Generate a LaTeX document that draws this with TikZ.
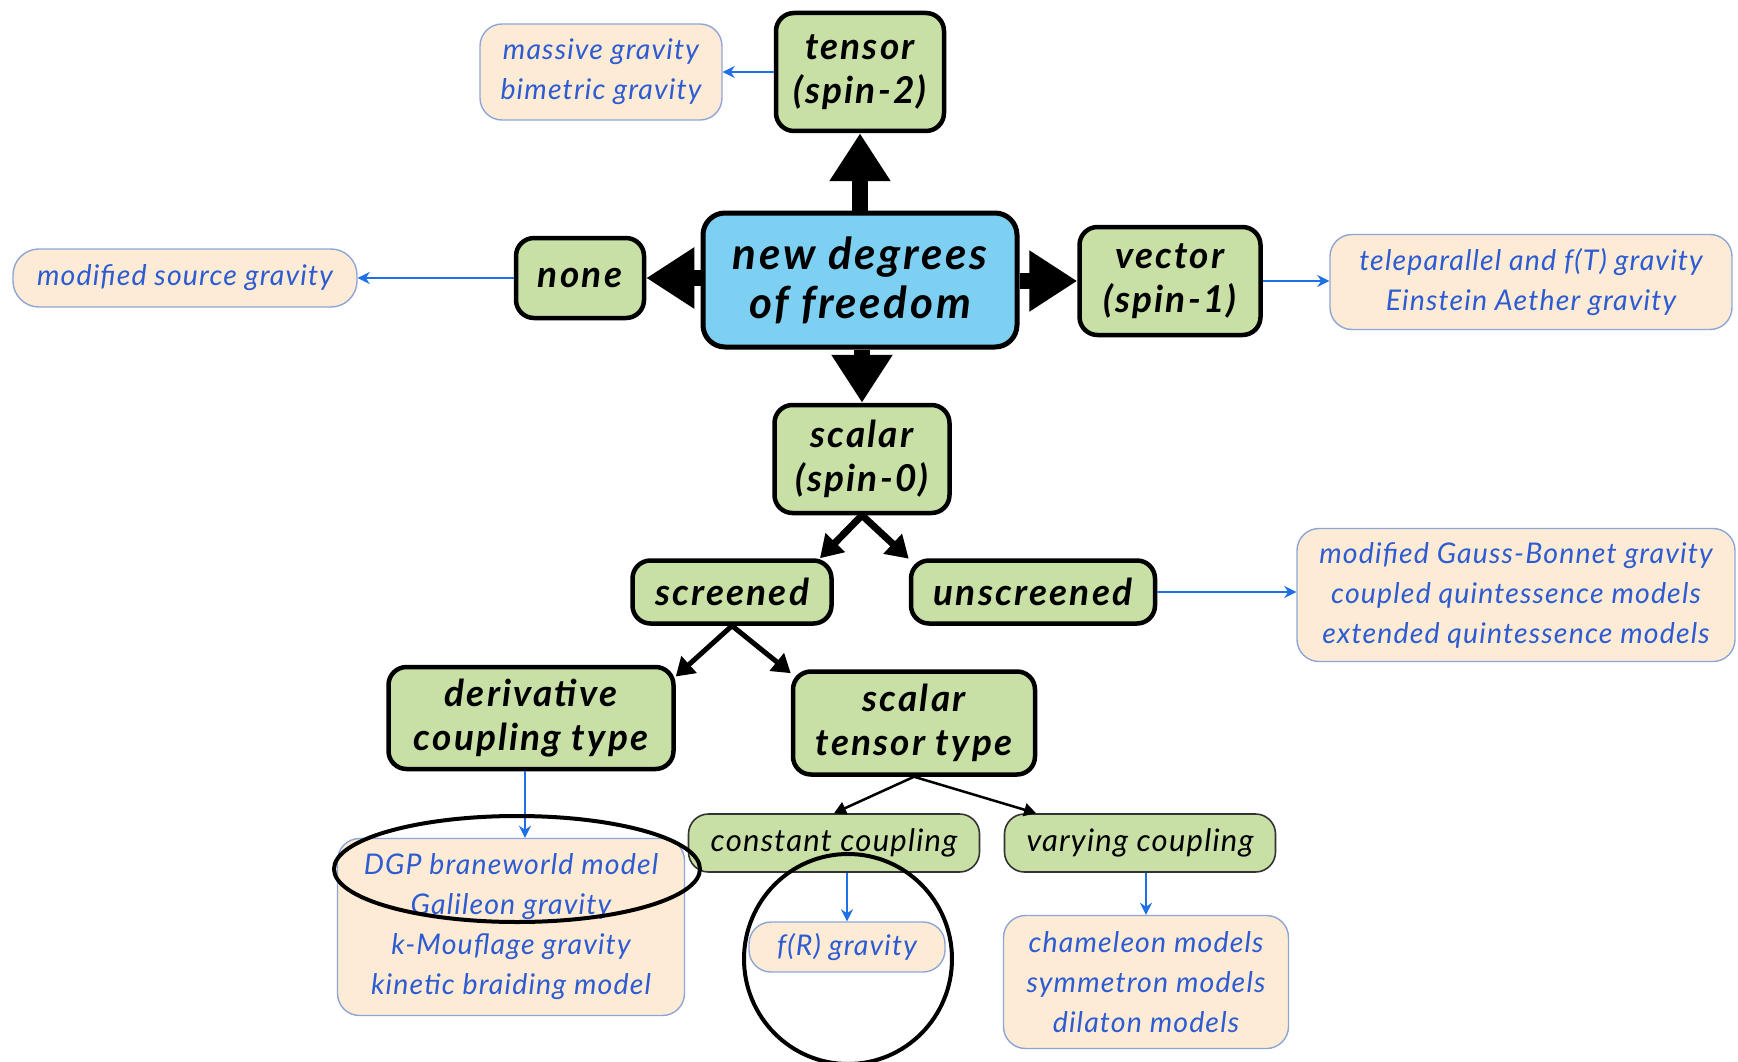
\documentclass[tikz,border=0pt]{standalone}
\usepackage{fontspec}
\setmainfont{Lato}
\newfontfamily\hfont{Lato}[LetterSpace=6]
\newfontfamily\tfont{Lato}[LetterSpace=4]
\usetikzlibrary{arrows.meta,shapes.geometric}
\definecolor{gfill}{HTML}{C8E0A6}
\definecolor{bfill}{HTML}{7DD0F2}
\definecolor{pfill}{HTML}{FDEBD6}
\definecolor{pdraw}{HTML}{8EA6D6}
\definecolor{btext}{HTML}{2D5BD1}
\definecolor{barrow}{HTML}{1F6FE6}
\begin{document}
\begin{tikzpicture}[x=1pt,y=-1pt,
  gbox/.style={draw=black, line width=4.5pt, fill=gfill, rounded corners=18pt, align=center, inner sep=0pt,
    font=\hfont\fontsize{37}{44}\selectfont\bfseries\itshape},
  cbox/.style={draw=black, line width=5pt, fill=bfill, rounded corners=22pt, align=center, inner sep=0pt,
    font=\hfont\fontsize{44}{49}\selectfont\bfseries\itshape},
  sbox/.style={draw=black!80, line width=1.6pt, fill=gfill, rounded corners=20pt, align=center, inner sep=0pt,
    font=\tfont\fontsize{31}{36}\selectfont\itshape},
  pbox/.style={draw=pdraw, line width=1.4pt, fill=pfill, rounded corners=22pt, align=center, inner sep=0pt,
    text=btext, font=\tfont\fontsize{28.5}{40}\selectfont\itshape},
  bigarrow/.style={line width=16pt, -{Triangle[length=48pt,width=58pt]}},
  midarrow/.style={line width=7pt, -{Triangle[length=22pt,width=26pt]}},
  smlarrow/.style={line width=5pt, -{Triangle[length=18pt,width=22pt]}},
  thinarrow/.style={line width=2.5pt, -{Triangle[length=12pt,width=13pt]}},
  bluearrow/.style={draw=barrow, line width=2.2pt, -{Stealth[length=12pt,width=12pt]}},
  annot/.style={draw=black, line width=4pt}
]
\useasboundingbox[fill=white] (0,0) rectangle (1738,1062);

% main nodes
\node[cbox, minimum width=314pt, minimum height=134pt] (center) at (860,280) {new degrees\\of freedom};
\node[gbox, minimum width=168pt, minimum height=118pt] (tensor) at (860,72) {tensor\\(spin-2)};
\node[gbox, minimum width=128pt, minimum height=80pt] (none) at (580,278) {none};
\node[gbox, minimum width=181pt, minimum height=108pt] (vector) at (1170,281) {vector\\(spin-1)};
\node[gbox, minimum width=175pt, minimum height=108pt] (scalar) at (862,459) {scalar\\(spin-0)};
\node[gbox, minimum width=199pt, minimum height=63pt] (screened) at (732,592) {screened};
\node[gbox, minimum width=244pt, minimum height=63pt] (unscreened) at (1033,592) {unscreened};
\node[gbox, minimum width=285pt, minimum height=102pt] (deriv) at (531,718) {derivative\\coupling type};
\node[gbox, minimum width=242pt, minimum height=103pt] (sttype) at (914,723) {scalar\\tensor type};
\node[sbox, minimum width=291pt, minimum height=58pt] (constant) at (834,843) {constant coupling};
\node[sbox, minimum width=271pt, minimum height=58pt] (varying) at (1140,843) {varying coupling};

% model boxes
\node[pbox, minimum width=242pt, minimum height=96pt] (massive) at (601,72) {massive gravity\\bimetric gravity};
\node[pbox, minimum width=344pt, minimum height=58pt, rounded corners=26pt] (modsrc) at (185,278) {modified source gravity};
\node[pbox, minimum width=402pt, minimum height=95pt] (telep) at (1531,282) {teleparallel and f(T) gravity\\Einstein Aether gravity};
\node[pbox, minimum width=438pt, minimum height=133pt] (gb) at (1516,595) {modified Gauss-Bonnet gravity\\coupled quintessence models\\extended quintessence models};
\node[pbox, minimum width=347pt, minimum height=177pt] (dgp) at (511,927) {DGP braneworld model\\Galileon gravity\\k-Mouflage gravity\\kinetic braiding model};
\node[pbox, minimum width=196pt, minimum height=50pt] (fr) at (847,947) {f(R) gravity};
\node[pbox, minimum width=285pt, minimum height=133pt] (cham) at (1146,982) {chameleon models\\symmetron models\\dilaton models};

% thick arrows
\draw[bigarrow] (center.north) -- (tensor.south);
\draw[bigarrow] (center.west |- none.east) -- (none.east);
\draw[bigarrow] (center.east |- vector.west) -- (vector.west);
\draw[bigarrow] (center.south -| scalar.north) -- (scalar.north);
\draw[midarrow] (scalar.south) -- (screened.21);
\draw[midarrow] (scalar.south) -- (unscreened.165);
\draw[smlarrow] (screened.south) -- (deriv.16);
\draw[smlarrow] (screened.south) -- (sttype.158);
\draw[thinarrow] (sttype.south) -- (constant.north);
\draw[thinarrow] (sttype.south) -- (varying.164);

% blue arrows
\draw[bluearrow] (tensor.west) -- (massive.east |- tensor.west);
\draw[bluearrow] (none.west) -- (modsrc.east |- none.west);
\draw[bluearrow] (vector.east) -- (telep.west |- vector.east);
\draw[bluearrow] (unscreened.east) -- (gb.west |- unscreened.east);
\draw[bluearrow] (deriv.south -| 525,0) -- (dgp.north -| 525,0);
\draw[bluearrow] (constant.south -| fr.north) -- (fr.north);
\draw[bluearrow] (varying.south -| cham.north) -- (cham.north);

% annotation ellipses
\draw[annot] (517,869) ellipse [x radius=183pt, y radius=53pt];
\begin{scope}
\clip (0,0) rectangle (1738,1062);
\draw[annot] (848,959) ellipse [x radius=104pt, y radius=105pt];
\end{scope}
\end{tikzpicture}
\end{document}
